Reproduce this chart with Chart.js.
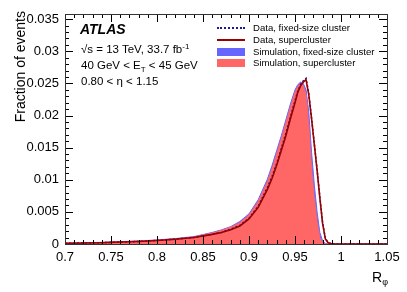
<!DOCTYPE html>
<html>
<head>
<meta charset="utf-8">
<script src="https://cdn.jsdelivr.net/npm/chart.js@4.4.1/dist/chart.umd.min.js"></script>
<style>
  html, body { margin: 0; padding: 0; background: #fff; }
  #wrap { position: relative; width: 407px; height: 292px; font-family: "Liberation Sans", Arial, sans-serif; color: #000; }
  #wrap canvas { position: absolute; left: 0; top: 0; }
  .txt { position: absolute; white-space: nowrap; line-height: 1; }
  .atlas { font-weight: bold; font-style: italic; font-size: 14px; }
  .info { font-size: 11.5px; }
  .leg { position: absolute; left: 217px; font-size: 9.6px; line-height: 1; white-space: nowrap; }
  .leg .mk { position: absolute; left: 0; width: 28px; }
  .leg .lb { position: absolute; left: 36px; top: -5px; }
  .ytitle { position: absolute; left: 12px; top: 127px; width: 116px; text-align: right; font-size: 14px; line-height: 16px;
            transform: rotate(-90deg); transform-origin: 0 0; white-space: nowrap; }
  .xtitle { position: absolute; left: 372px; top: 270px; font-size: 14px; line-height: 1; }
  .xtitle sub { font-size: 9px; vertical-align: -3px; }
</style>
</head>
<body>
<div id="wrap">
  <canvas id="c" width="407" height="292"></canvas>
  <div class="txt atlas" style="left:80px;top:22px;">ATLAS</div>
  <div class="txt info" style="left:81px;top:43px;">&#8730;s = 13 TeV, 33.7 fb<sup style="font-size:8px;vertical-align:4px;">-1</sup></div>
  <div class="txt info" style="left:81px;top:60px;">40 GeV &lt; E<sub style="font-size:8px;vertical-align:-3px;">T</sub> &lt; 45 GeV</div>
  <div class="txt info" style="left:81px;top:76px;">0.80 &lt; &#951; &lt; 1.15</div>

  <div class="leg" style="top:28px;"><div class="mk" style="top:-1px;border-top:2px dotted #1a1a9a;"></div><div class="lb">Data, fixed-size cluster</div></div>
  <div class="leg" style="top:40px;"><div class="mk" style="top:-1px;border-top:2px solid #990000;"></div><div class="lb">Data, supercluster</div></div>
  <div class="leg" style="top:52px;"><div class="mk" style="top:-4px;height:8px;background:#6666ff;"></div><div class="lb">Simulation, fixed-size cluster</div></div>
  <div class="leg" style="top:63px;"><div class="mk" style="top:-4px;height:8px;background:#ff6666;"></div><div class="lb">Simulation, supercluster</div></div>

  <div class="ytitle">Fraction of events</div>
  <div class="xtitle">R<sub>&#966;</sub></div>
</div>
<script>
(function() {
  'use strict';

  // R_phi sampling points (shared by all series)
  var rphi = [0.70, 0.72, 0.74, 0.76, 0.78, 0.80, 0.82, 0.84, 0.86, 0.87, 0.88, 0.89, 0.90, 0.91, 0.92, 0.925,
    0.93, 0.935, 0.94, 0.945, 0.95, 0.953, 0.956, 0.959, 0.962, 0.965, 0.968, 0.971, 0.974, 0.977, 0.980,
    0.983, 0.986, 0.99, 1.00, 1.02, 1.05];

  var dataFixed = [0.0001, 0.00015, 0.0002, 0.0003, 0.0004, 0.00056, 0.00076, 0.00102, 0.0015, 0.0018, 0.0023, 0.0029,
    0.004, 0.0059, 0.0088, 0.0105, 0.0125, 0.0148, 0.0172, 0.0198, 0.0223, 0.0238, 0.0248, 0.0254, 0.0258, 0.0234,
    0.0196, 0.0156, 0.0116, 0.0073, 0.0033, 0.0009, 0.0002, 0.00003, 0, 0, 0];

  var dataSuper = [0.0001, 0.00015, 0.0002, 0.0003, 0.0004, 0.00055, 0.00075, 0.001, 0.0015, 0.0018, 0.0022, 0.0028,
    0.0039, 0.0057, 0.0085, 0.0102, 0.0122, 0.0145, 0.0168, 0.0195, 0.022, 0.0236, 0.0246, 0.0252, 0.0256, 0.0232,
    0.0195, 0.0155, 0.0115, 0.0072, 0.0032, 0.0008, 0.0002, 0.00003, 0, 0, 0];

  var simFixed = [0.0001, 0.00016, 0.00026, 0.00036, 0.00047, 0.00063, 0.00085, 0.00115, 0.0018, 0.0022, 0.0027, 0.0035,
    0.0047, 0.0069, 0.0101, 0.0122, 0.0145, 0.0168, 0.0193, 0.0218, 0.024, 0.0248, 0.0252, 0.025, 0.024, 0.0205,
    0.0143, 0.0092, 0.005, 0.0018, 0.0005, 0.0001, 0, 0, 0, 0, 0];

  var simSuper = [0.0001, 0.00015, 0.00025, 0.00035, 0.00045, 0.0006, 0.0008, 0.0011, 0.0017, 0.0021, 0.0026, 0.0033,
    0.0045, 0.0066, 0.0097, 0.0117, 0.014, 0.0163, 0.0188, 0.0213, 0.0236, 0.0245, 0.025, 0.0247, 0.0232, 0.0185,
    0.0118, 0.0072, 0.0035, 0.001, 0.0002, 0, 0, 0, 0, 0, 0];

  var xMin = 0.7, xMax = 1.05, xStep = 0.05, xMinor = 0.01;
  var yMin = 0, yMax = 0.0358, yStep = 0.005, yMinor = 0.001;

  function points(values) {
    return rphi.map(function(x, i) { return { x: x, y: values[i] }; });
  }

  function line(ctx, x1, y1, x2, y2) {
    ctx.beginPath();
    ctx.moveTo(x1, y1);
    ctx.lineTo(x2, y2);
    ctx.stroke();
  }

  // ROOT-style frame with inward ticks on all four sides
  var frameTicks = {
    id: 'frameTicks',
    afterDatasetsDraw: function(chart) {
      var ctx = chart.ctx, a = chart.chartArea, xs = chart.scales.x, ys = chart.scales.y;
      var i, v, p, len;
      ctx.save();
      ctx.strokeStyle = '#000';
      ctx.lineWidth = 1;
      var nx = Math.round((xMax - xMin) / xMinor);
      for (i = 0; i <= nx; i++) {
        v = xMin + i * xMinor;
        p = Math.round(xs.getPixelForValue(v)) + 0.5;
        len = i % 5 === 0 ? 8 : 4;
        line(ctx, p, a.bottom, p, a.bottom - len);
        line(ctx, p, a.top, p, a.top + len);
      }
      var ny = Math.floor((yMax - yMin) / yMinor + 1e-6);
      for (i = 0; i <= ny; i++) {
        v = yMin + i * yMinor;
        p = Math.round(ys.getPixelForValue(v)) + 0.5;
        len = i % 5 === 0 ? 8 : 4;
        line(ctx, a.left, p, a.left + len, p);
        line(ctx, a.right, p, a.right - len, p);
      }
      ctx.strokeStyle = '#333';
      ctx.strokeRect(Math.round(a.left) + 0.5, Math.round(a.top) + 0.5, Math.round(a.right - a.left), Math.round(a.bottom - a.top));
      ctx.restore();
    }
  };

  new Chart(document.getElementById('c'), {
    type: 'line',
    data: {
      datasets: [
        { label: 'Data, fixed-size cluster', data: points(dataFixed), borderColor: '#1a1a9a', borderWidth: 1.5,
          borderDash: [2, 2], fill: false, order: 1 },
        { label: 'Data, supercluster', data: points(dataSuper), borderColor: '#990000', borderWidth: 1.6,
          fill: false, order: 0 },
        { label: 'Simulation, fixed-size cluster', data: points(simFixed), borderColor: '#6666ff', borderWidth: 1,
          backgroundColor: '#6666ff', fill: 'origin', order: 3 },
        { label: 'Simulation, supercluster', data: points(simSuper), borderColor: '#ff6666', borderWidth: 1,
          backgroundColor: '#ff6666', fill: 'origin', order: 2 }
      ]
    },
    options: {
      responsive: false,
      animation: false,
      devicePixelRatio: 1,
      layout: { padding: { left: 0, right: 20, top: 14, bottom: 0 } },
      elements: { point: { radius: 0 }, line: { tension: 0 } },
      plugins: { legend: { display: false }, tooltip: { enabled: false } },
      scales: {
        x: {
          type: 'linear', min: xMin, max: xMax,
          grid: { display: false, drawTicks: false },
          border: { display: false },
          afterFit: function(scale) { scale.height = 48; },
          ticks: {
            stepSize: xStep, autoSkip: false, maxRotation: 0, padding: 6, color: '#000',
            font: { family: 'Liberation Sans', size: 13 },
            callback: function(v) { return String(parseFloat(v.toFixed(2))); }
          }
        },
        y: {
          type: 'linear', min: yMin, max: yMax,
          grid: { display: false, drawTicks: false },
          border: { display: false },
          afterFit: function(scale) { scale.width = 65; },
          ticks: {
            stepSize: yStep, includeBounds: false, autoSkip: false, padding: 6, color: '#000',
            font: { family: 'Liberation Sans', size: 13 },
            callback: function(v) { return String(parseFloat(v.toFixed(3))); }
          }
        }
      }
    },
    plugins: [frameTicks]
  });
})();
</script>
</body>
</html>
